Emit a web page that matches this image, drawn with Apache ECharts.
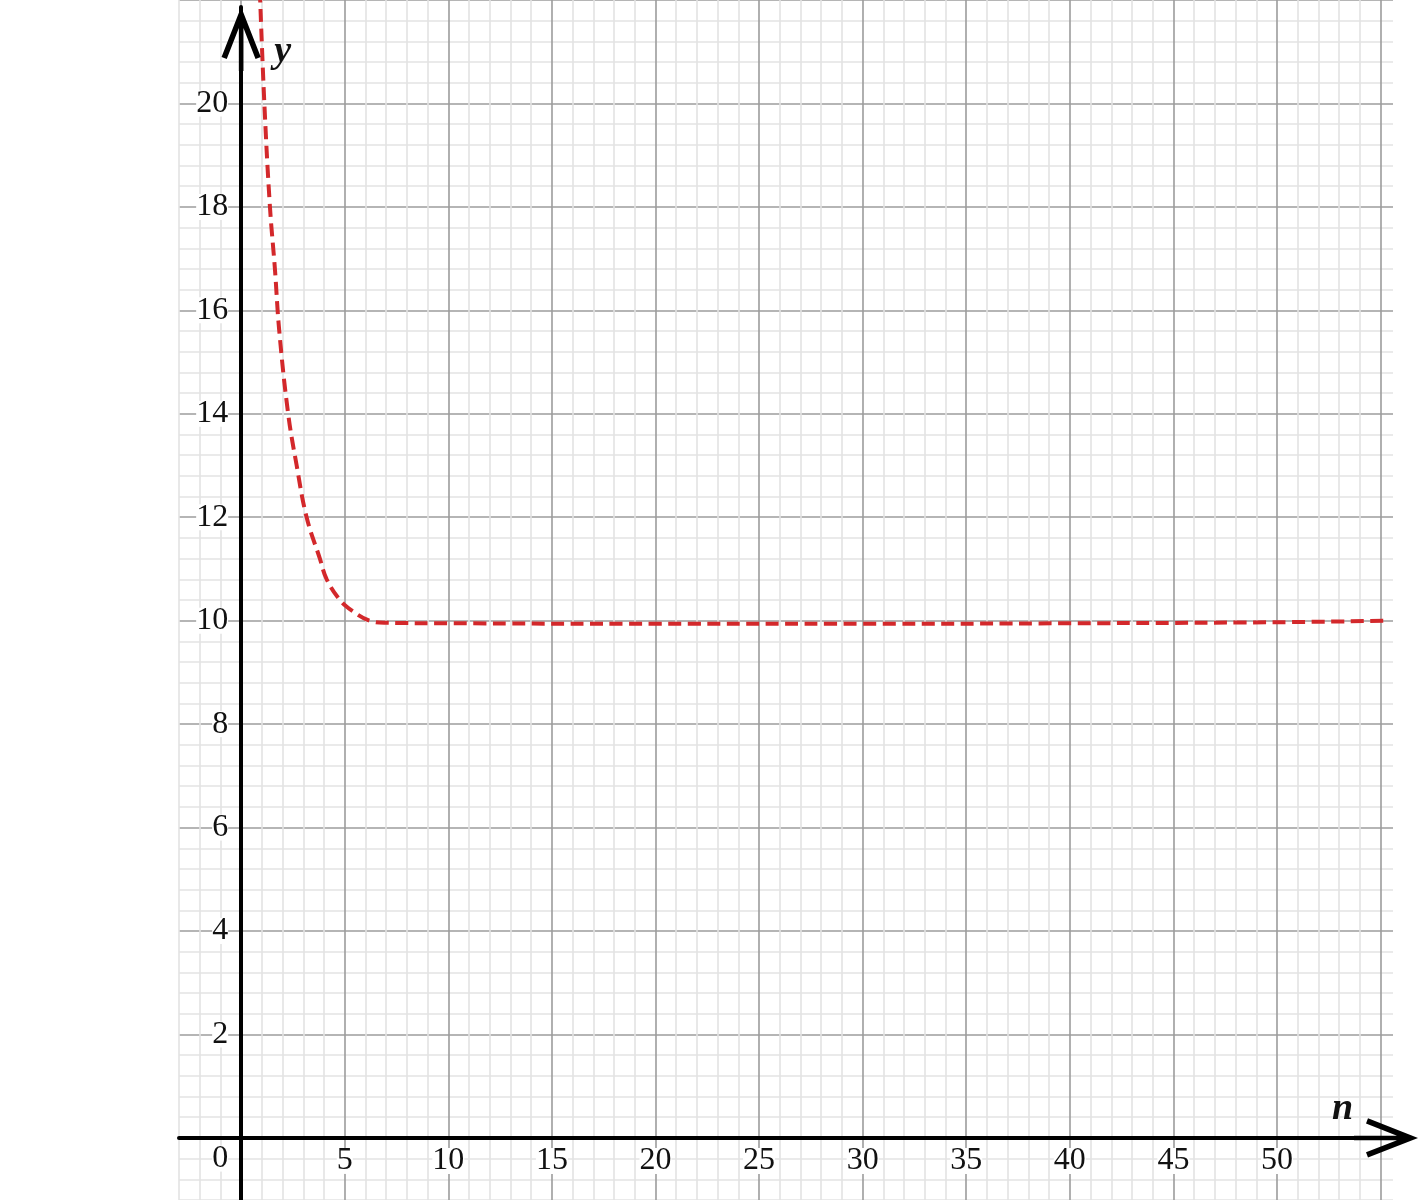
<!DOCTYPE html>
<html>
<head>
<meta charset="utf-8">
<title>y against n</title>
<script src="https://cdn.jsdelivr.net/npm/echarts@6/dist/echarts.min.js"></script>
<style>
  html, body { margin: 0; padding: 0; background: #fff; }
  #chart { width: 1421px; height: 1200px; }
</style>
</head>
<body>
<div id="chart"></div>
<script>
// curve
const nValues = [0.9, 1.12, 1.39, 1.63, 1.84, 2.27, 2.68, 3.16, 3.8, 4.13, 4.77, 5.33, 6.2, 7.0, 10, 20, 30, 40, 50, 55.4];
const yValues = [22.2, 20, 18, 16.8, 15.6, 14, 13, 12, 11.2, 10.8, 10.4, 10.2, 10.0, 9.96, 9.95, 9.94, 9.94, 9.95, 9.97, 10.0];

const xTickLabels = [5, 10, 15, 20, 25, 30, 35, 40, 45, 50];
const yTickLabels = [2, 4, 6, 8, 10, 12, 14, 16, 18, 20];
const originLabel = '0';
const originLabelAt = -0.4; // sits just under the n axis, left of the y axis

const xMin = -3, xMax = 55.6;
const yMin = -1.2, yMax = 22;
const chartW = 1421, chartH = 1200;
const gridLeft = 179, gridRight = 28;
const arrowTop = 7; // y arrow tip stops a little under the top edge
const yAxisLineMax = yMin + (yMax - yMin) * (chartH - arrowTop) / chartH;

// axes cross at (0, 0), not at the grid edges: shift them in with offset
const pxPerX = (chartW - gridLeft - gridRight) / (xMax - xMin);
const pxPerY = chartH / (yMax - yMin);
const yAxisShift = -(0 - xMin) * pxPerX;
const xAxisShift = -(0 - yMin) * pxPerY;

// every 5th line (values 0, 5, 10 ... / 0, 2, 4 ...) is a darker one
const MINOR = '#e3e3e3';
const MAJOR = '#9c9c9c';
const gridColors = [MINOR, MINOR, MINOR, MAJOR, MINOR];

// open chevron with a bit of shaft, pointing up
const arrowPath = 'path://M20 0 L39.6 50 L34.4 52 L22.3 21 L22.3 64 L17.7 64 L17.7 21 L5.6 52 L0.4 50 Z';
const FONT = 'Liberation Serif';

const isLabel = (v, list) => {
  const r = Math.round(v);
  return Math.abs(v - r) < 1e-6 && list.indexOf(r) !== -1;
};

const tickText = {
  fontFamily: FONT,
  fontSize: 32,
  color: '#111',
  backgroundColor: '#fff',
  lineHeight: 26
};

const nameText = {
  fontFamily: FONT,
  fontSize: 38,
  fontWeight: 'bold',
  fontStyle: 'italic',
  color: '#111',
  lineHeight: 40
};

const option = {
  animation: false,
  backgroundColor: '#fff',
  grid: [
    { left: gridLeft, right: gridRight, top: 0, bottom: 0, containLabel: false, outerBoundsMode: 'none' },
    { left: gridLeft, right: gridRight, top: arrowTop, bottom: 0, containLabel: false, outerBoundsMode: 'none' }
  ],
  xAxis: [
    {
      gridIndex: 0,
      type: 'value',
      min: xMin,
      max: xMax,
      interval: 1,
      axisLine: { show: false, onZero: false },
      axisTick: { show: false },
      axisLabel: { show: false },
      splitLine: { show: true, showMaxLine: false, lineStyle: { color: gridColors, width: 1.6 } }
    },
    {
      gridIndex: 1,
      type: 'value',
      position: 'bottom',
      offset: xAxisShift,
      min: xMin,
      max: xMax,
      interval: 1,
      z: 4,
      axisLine: {
        show: true,
        onZero: false,
        lineStyle: { color: '#000', width: 4 },
        symbol: ['none', arrowPath],
        symbolSize: [39.2, 64],
        symbolOffset: [0, -7]
      },
      axisTick: { show: false },
      axisLabel: Object.assign({
        interval: 0,
        margin: 10,
        formatter: v => (isLabel(v, xTickLabels) ? String(Math.round(v)) : '')
      }, tickText),
      splitLine: { show: false },
      name: 'n',
      nameLocation: 'end',
      nameGap: -61,
      nameMoveOverlap: false,
      nameTextStyle: Object.assign({ align: 'left', verticalAlign: 'bottom', padding: [0, 0, 9, 0] }, nameText)
    }
  ],
  yAxis: [
    {
      gridIndex: 0,
      type: 'value',
      min: yMin,
      max: yMax,
      interval: 0.4,
      axisLine: { show: false, onZero: false },
      axisTick: { show: false },
      axisLabel: { show: false },
      splitLine: { show: true, lineStyle: { color: gridColors, width: 1.6 } }
    },
    {
      gridIndex: 1,
      type: 'value',
      position: 'left',
      offset: yAxisShift,
      min: yMin,
      max: yAxisLineMax,
      interval: 0.4,
      z: 4,
      axisLine: {
        show: true,
        onZero: false,
        lineStyle: { color: '#000', width: 4 },
        symbol: ['none', arrowPath],
        symbolSize: [39.2, 64],
        symbolOffset: [0, -32]
      },
      axisTick: { show: false },
      axisLabel: Object.assign({
        interval: 0,
        margin: 13,
        formatter: v => {
          if (Math.abs(v - originLabelAt) < 1e-6) return originLabel;
          return isLabel(v, yTickLabels) ? String(Math.round(v)) : '';
        }
      }, tickText),
      splitLine: { show: false },
      name: 'y',
      nameLocation: 'end',
      nameGap: -45,
      nameMoveOverlap: false,
      nameTextStyle: Object.assign({ align: 'left', verticalAlign: 'middle', padding: [0, 0, 0, 33] }, nameText)
    }
  ],
  series: [
    {
      type: 'line',
      xAxisIndex: 0,
      yAxisIndex: 0,
      z: 3,
      data: nValues.map((n, i) => [n, yValues[i]]),
      showSymbol: false,
      smooth: 0.4,
      clip: true,
      lineStyle: { color: '#d3282b', width: 4, type: [13, 6.5], cap: 'butt' }
    }
  ]
};

const chart = echarts.init(document.getElementById('chart'));
chart.setOption(option);
</script>
</body>
</html>
